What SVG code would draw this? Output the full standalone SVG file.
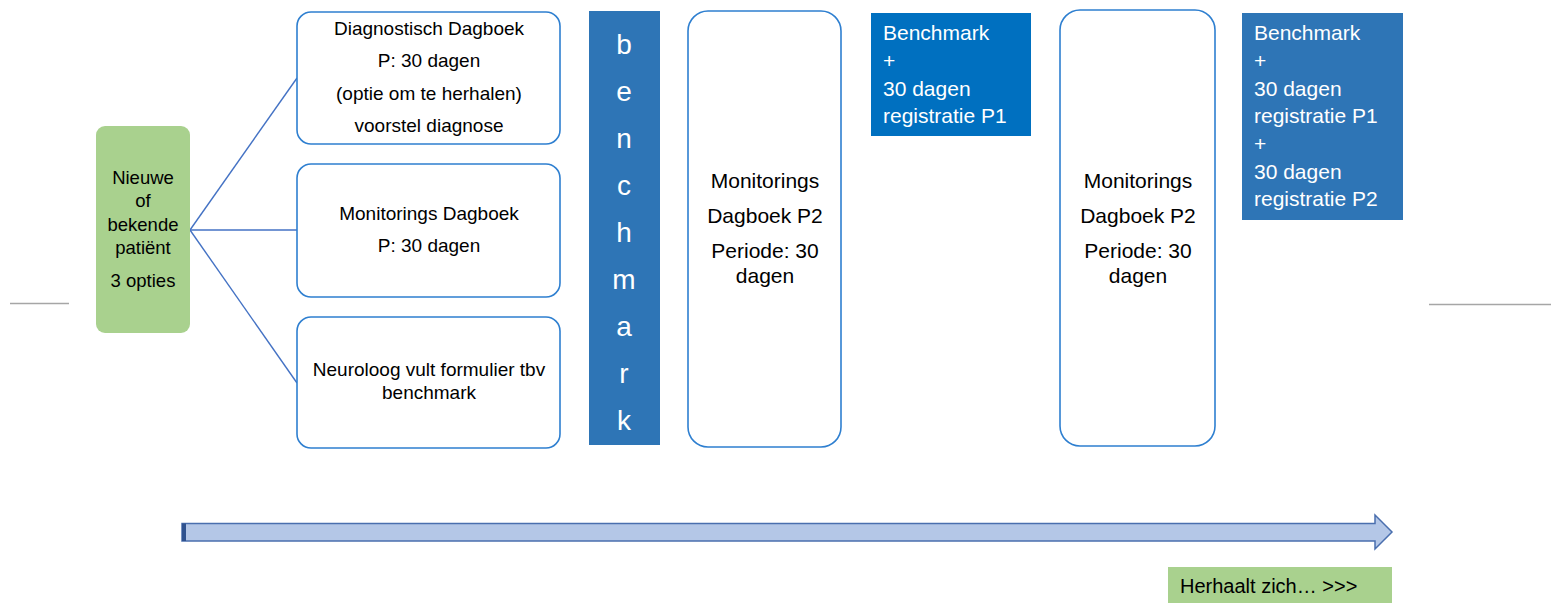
<svg xmlns="http://www.w3.org/2000/svg" width="1551" height="604" viewBox="0 0 1551 604">
<style>
.t{font-family:"Liberation Sans",Arial,sans-serif;fill:#000}
.w{font-family:"Liberation Sans",Arial,sans-serif;fill:#fff}
.box{fill:#fff;stroke:#2e7fd0;stroke-width:1.6}
.green{fill:#a9d18e}
.conn{stroke:#4472c4;stroke-width:1.4;fill:none}
.grey{stroke:#a6a6a6;stroke-width:1.5}
</style>
<rect width="1551" height="604" fill="#fff"/>
<g id="guides">
<line class="grey" x1="10" y1="303.5" x2="69" y2="303.5"/>
<line class="grey" x1="1429" y1="304.5" x2="1551" y2="304.5"/>
</g>
<g id="connectors">
<line class="conn" x1="190" y1="230" x2="297" y2="78"/>
<line class="conn" x1="190" y1="230" x2="297" y2="230"/>
<line class="conn" x1="190" y1="230" x2="297" y2="383"/>
</g>
<g id="patient">
<rect class="green" x="96" y="126" width="94" height="207" rx="9"/>
<g class="t" font-size="18.5" text-anchor="middle">
<text x="143" y="184">Nieuwe</text>
<text x="143" y="207">of</text>
<text x="143" y="231">bekende</text>
<text x="143" y="254">patiënt</text>
<text x="143" y="287">3 opties</text>
</g>
</g>
<g id="diagnostisch">
<rect class="box" x="297" y="12" width="263" height="132" rx="14"/>
<g class="t" font-size="19" text-anchor="middle">
<text x="429" y="35">Diagnostisch Dagboek</text>
<text x="429" y="67">P: 30 dagen</text>
<text x="429" y="100">(optie om te herhalen)</text>
<text x="429" y="132">voorstel diagnose</text>
</g>
</g>
<g id="monitorings1">
<rect class="box" x="297" y="164" width="263" height="133" rx="14"/>
<g class="t" font-size="19" text-anchor="middle">
<text x="429" y="220">Monitorings Dagboek</text>
<text x="429" y="252">P: 30 dagen</text>
</g>
</g>
<g id="neuroloog">
<rect class="box" x="297" y="317" width="263" height="131" rx="14"/>
<g class="t" font-size="19" text-anchor="middle">
<text x="429" y="376">Neuroloog vult formulier tbv</text>
<text x="429" y="399">benchmark</text>
</g>
</g>
<g id="benchmark-bar">
<rect x="589" y="11" width="71" height="434" fill="#2e75b6"/>
<g class="w" font-size="28" text-anchor="middle">
<text x="624" y="54">b</text>
<text x="624" y="101">e</text>
<text x="624" y="148">n</text>
<text x="624" y="195">c</text>
<text x="624" y="242">h</text>
<text x="624" y="289">m</text>
<text x="624" y="336">a</text>
<text x="624" y="383">r</text>
<text x="624" y="430">k</text>
</g>
</g>
<g id="monitorings-p2-a">
<rect class="box" x="688" y="11" width="153" height="436" rx="20"/>
<g class="t" font-size="21" text-anchor="middle">
<text x="765" y="188">Monitorings</text>
<text x="765" y="223">Dagboek P2</text>
<text x="765" y="258">Periode: 30</text>
<text x="765" y="283">dagen</text>
</g>
</g>
<g id="benchmark-p1">
<rect x="871" y="13" width="160" height="123" fill="#0070c0"/>
<g class="w" font-size="21">
<text x="883" y="40">Benchmark</text>
<text x="883" y="68">+</text>
<text x="883" y="96">30 dagen</text>
<text x="883" y="123">registratie P1</text>
</g>
</g>
<g id="monitorings-p2-b">
<rect class="box" x="1060" y="10" width="155" height="436" rx="20"/>
<g class="t" font-size="21" text-anchor="middle">
<text x="1138" y="188">Monitorings</text>
<text x="1138" y="223">Dagboek P2</text>
<text x="1138" y="258">Periode: 30</text>
<text x="1138" y="283">dagen</text>
</g>
</g>
<g id="benchmark-p2">
<rect x="1242" y="13" width="161" height="207" fill="#2e75b6"/>
<g class="w" font-size="21">
<text x="1254" y="40">Benchmark</text>
<text x="1254" y="68">+</text>
<text x="1254" y="96">30 dagen</text>
<text x="1254" y="123">registratie P1</text>
<text x="1254" y="151">+</text>
<text x="1254" y="179">30 dagen</text>
<text x="1254" y="206">registratie P2</text>
</g>
</g>
<g id="timeline">
<path d="M182,523.5 H1375 V515 L1392,532 L1375,549 V541 H182 Z" fill="#b4c7e7" stroke="#4a6fae" stroke-width="1.5"/>
<rect x="182" y="523.5" width="4" height="17.5" fill="#2f528f"/>
</g>
<g id="herhaalt">
<rect class="green" x="1168" y="567" width="224" height="36"/>
<text class="t" x="1180" y="593" font-size="20">Herhaalt zich… &gt;&gt;&gt;</text>
</g>
</svg>
